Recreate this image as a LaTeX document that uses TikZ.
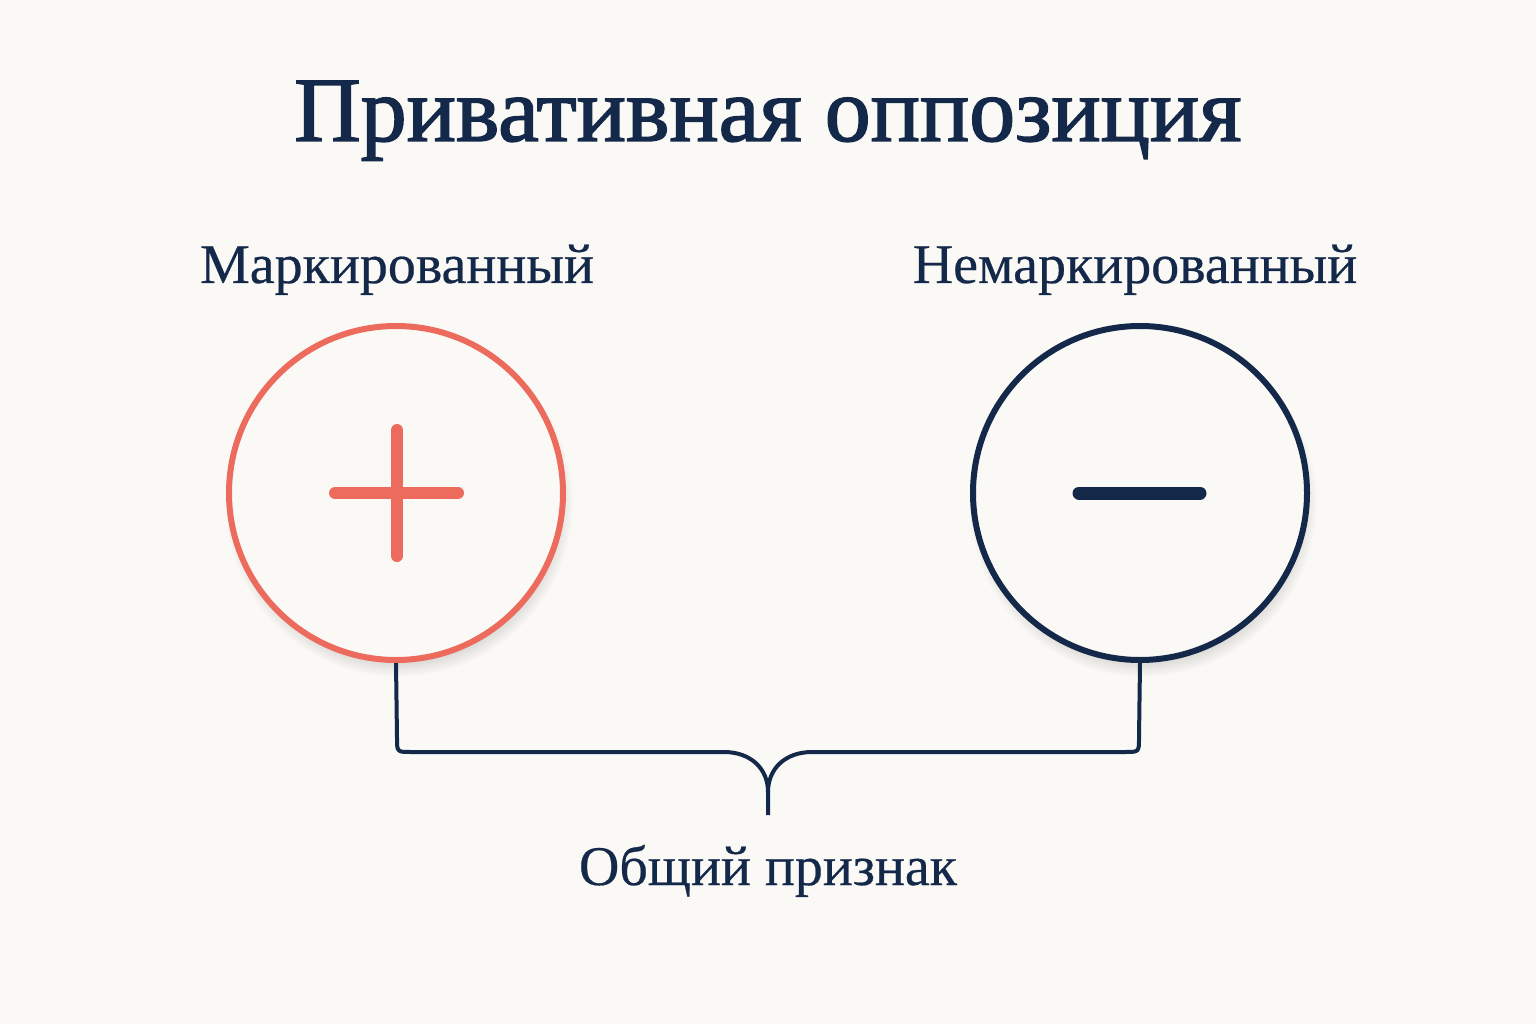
\documentclass[tikz,border=0pt]{standalone}
\usepackage{fontspec}
\setmainfont{Liberation Serif}
\newfontfamily\titlefont[FakeBold=1.6]{Liberation Serif}
\newfontfamily\labelfont[FakeBold=0.4]{Liberation Serif}
\usetikzlibrary{calc}
\definecolor{bg}{HTML}{FAF9F6}
\definecolor{navy}{HTML}{14284A}
\definecolor{coral}{HTML}{EC6B5D}
\tikzset{
  ring/.style={circle,minimum size=334pt,inner sep=0pt,line width=6pt,fill=bg},
  brace/.style={draw=navy,line width=4pt,line join=round},
  lbl/.style={text=navy,anchor=base,inner sep=0pt,font=\labelfont\fontsize{56}{60}\selectfont},
  ttl/.style={text=navy,anchor=base,inner sep=0pt,font=\titlefont\fontsize{92}{96}\selectfont},
  bar/.style={line width=12pt,line cap=round}
}
\begin{document}
\begin{tikzpicture}[x=1pt,y=-1pt]
\fill[bg] (0,0) rectangle (1536,1024);
\useasboundingbox (0,0) rectangle (1536,1024);
\node[ttl] (title) at (768,141) {Привативная оппозиция};
\node[lbl] (lm) at (397,283) {Маркированный};
\node[lbl] (lu) at (1135,283) {Немаркированный};
% shadows
\foreach \c in {396,1140}{
  \foreach \i in {0,...,16}{
    \fill[black,opacity=0.008] (\c+3,503) circle (158+\i);
  }
}
\node[ring,draw=coral] (L) at (396,493) {};
\node[ring,draw=navy] (R) at (1140,493) {};
\draw[bar,coral] ($(L.center)+(-61,0)$) -- ($(L.center)+(62,0)$);
\draw[bar,coral] ($(L.center)+(1,-63)$) -- ($(L.center)+(1,63)$);
\draw[bar,navy,line width=13pt] ($(R.center)+(-61,0)$) -- ($(R.center)+(60,0)$);
\coordinate (tip) at (768,815);
\draw[brace] (L.south) -- (397,738) .. controls (397,752) .. (411,752) -- (724,752)
  .. controls (750,752) and (768,768) .. (768,792) -- (tip);
\draw[brace] (R.south) -- (1139,738) .. controls (1139,752) .. (1125,752) -- (812,752)
  .. controls (786,752) and (768,768) .. (768,792);
\node[lbl] (common) at (768,885) {Общий признак};
\end{tikzpicture}
\end{document}
